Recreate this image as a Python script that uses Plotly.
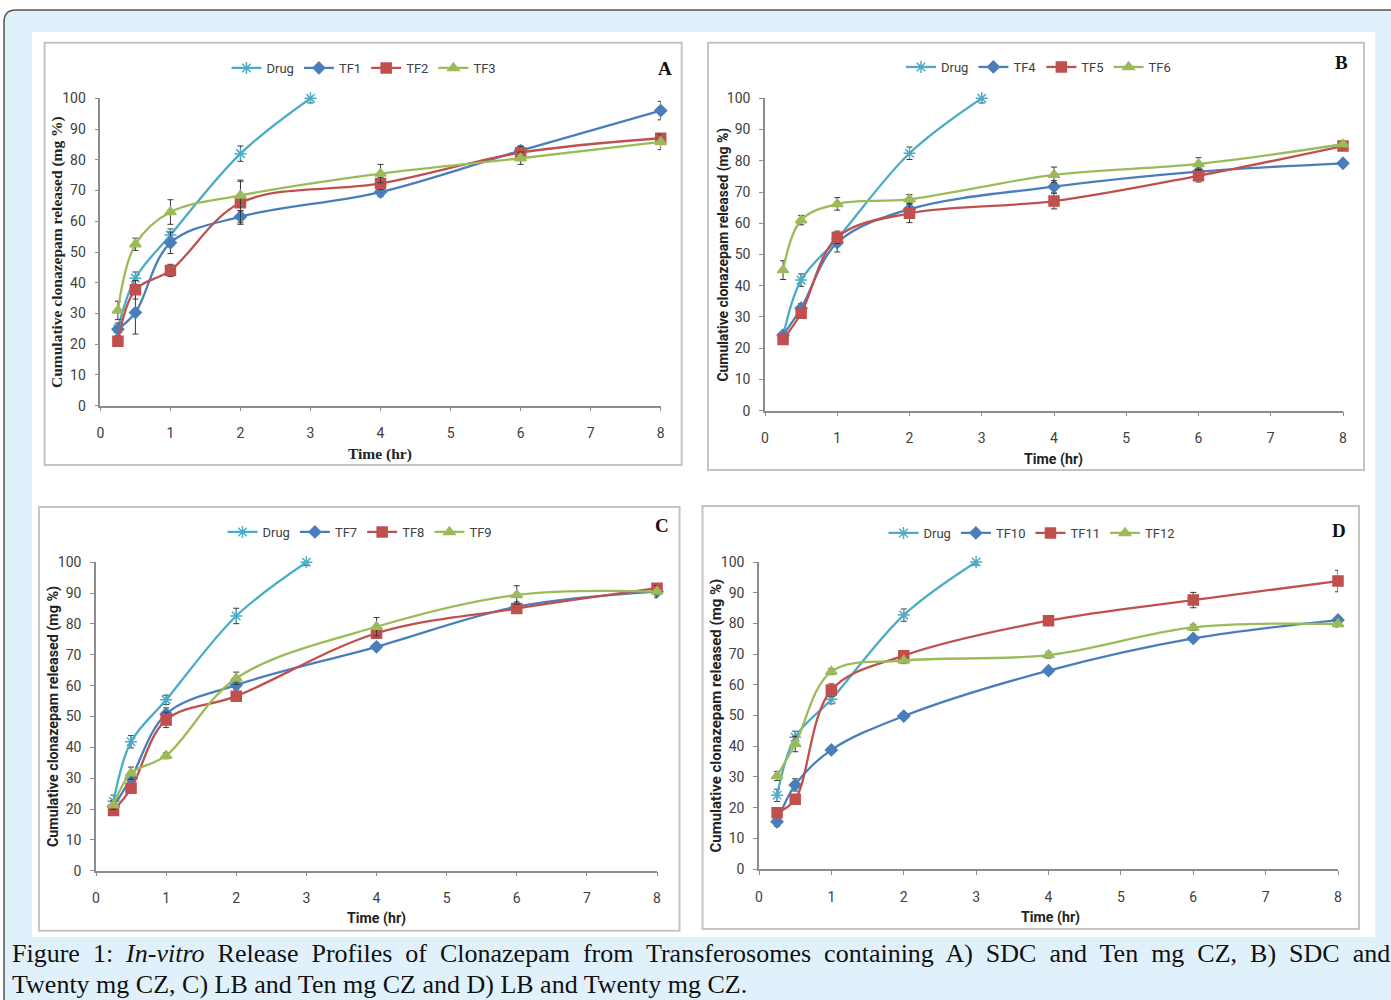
import plotly.graph_objects as go

W, H = 1391, 1000

# ---------------- data ----------------
time_drug = [0.25, 0.5, 1, 2, 3]
time_tf = [0.25, 0.5, 1, 2, 4, 6, 8]
x_ticks = [0, 1, 2, 3, 4, 5, 6, 7, 8]
y_ticks = [0, 10, 20, 30, 40, 50, 60, 70, 80, 90, 100]

# Panel A
drug_a = [25, 41.5, 55.5, 82, 100]
drug_a_err = [1, 2, 2, 2.5, 1.5]
tf1 = [24.9, 30.3, 53, 61.5, 69.5, 83, 96]
tf1_err = [2, 7, 3.5, 2, 1.5, 1.5, 3]
tf2 = [21, 37.7, 44, 66, 72.3, 82.3, 87]
tf2_err = [1.5, 3, 2, 7, 2, 2, 1.5]
tf3 = [31, 52.5, 63, 68.4, 75.5, 80.5, 85.8]
tf3_err = [3, 2, 4, 5, 3, 2, 2.5]

# Panel B
drug_b = [23.7, 41.8, 55, 82.4, 100]
drug_b_err = [1, 2, 2, 2, 1.5]
tf4 = [24.2, 32.8, 53.8, 64.5, 71.7, 76.5, 79.2]
tf4_err = [1, 1.5, 3, 2, 2, 2, 1]
tf5 = [22.8, 31.2, 55.5, 63.2, 67.1, 75.2, 84.7]
tf5_err = [1, 1.5, 2, 3, 2.5, 2, 1]
tf6 = [45, 61, 66.2, 67.7, 75.5, 79, 85.3]
tf6_err = [3, 1.5, 2, 1.5, 2.5, 2, 1]

# Panel C
drug_c = [22.5, 41.8, 55.4, 82.6, 100]
drug_c_err = [2, 2, 1.5, 2.5, 1]
tf7 = [20.8, 30, 50.8, 60.2, 72.6, 85.6, 90.5]
tf7_err = [1.5, 2, 2, 1.5, 1, 1.5, 1]
tf8 = [19.5, 26.7, 48.9, 56.6, 77, 85, 91.6]
tf8_err = [1, 1.5, 2.5, 1.5, 1.5, 1.5, 1]
tf9 = [21.3, 31.6, 37.3, 62.4, 79.1, 89.4, 90.5]
tf9_err = [1.5, 2, 1, 2, 3, 3, 2]

# Panel D
drug_d = [24, 42.9, 55.3, 82.7, 100]
drug_d_err = [2, 2, 1.5, 2, 1]
tf10 = [15.4, 27.4, 38.8, 49.8, 64.6, 75.1, 81.1]
tf10_err = [1.5, 2, 1, 1, 1, 1, 1]
tf11 = [18.3, 22.7, 58.3, 69.5, 80.9, 87.6, 93.8]
tf11_err = [1.5, 1.5, 2, 1.5, 1.5, 2.5, 3.5]
tf12 = [30.3, 40.7, 64.3, 67.9, 69.7, 78.7, 79.8]
tf12_err = [1.5, 2.5, 1, 1, 1, 1, 1]

caption_line1 = "Figure 1: <i>In-vitro</i> Release Profiles of Clonazepam from Transferosomes containing A) SDC and Ten mg CZ, B) SDC and"
caption_line2 = "Twenty mg CZ, C) LB and Ten mg CZ and D) LB and Twenty mg CZ."
y_title = "Cumulative clonazepam released (mg %)"
x_title = "Time (hr)"

# ---------------- styles ----------------
C_DRUG = "#4bacc6"
C_BLUE = "#4a7ebb"
C_RED = "#c0504d"
C_GREEN = "#9bbb59"
SANS = "Liberation Sans Narrow, Arial Narrow, Roboto, Liberation Sans, sans-serif"
SERIF = "Liberation Serif, Times New Roman, serif"
TICK_COL = "#404040"
BG_BLUE = "#e1f1fb"


def fx(p):
    return p / W


def fy(p):
    return 1 - p / H


panels = [
    dict(letter="A", suffix="", legend="legend", ax=(100.4, 660.7, 405.7, 98.3),
         box=(44.6, 42.7, 681.7, 465), leg=(364, 68), let=(665, 69),
         yt=(57, 252), xt=(379.5, 454), tfont=SERIF, ysz=15.5, xsz=15.5,
         series=[("Drug", time_drug, drug_a, drug_a_err), ("TF1", time_tf, tf1, tf1_err),
                 ("TF2", time_tf, tf2, tf2_err), ("TF3", time_tf, tf3, tf3_err)]),
    dict(letter="B", suffix="2", legend="legend2", ax=(765, 1343, 410.7, 98.3),
         box=(708, 42.7, 1364, 470), leg=(1038.5, 67), let=(1341, 62),
         yt=(722.5, 255), xt=(1053.6, 459), tfont=SANS, ysz=13.9, xsz=14.2,
         series=[("Drug", time_drug, drug_b, drug_b_err), ("TF4", time_tf, tf4, tf4_err),
                 ("TF5", time_tf, tf5, tf5_err), ("TF6", time_tf, tf6, tf6_err)]),
    dict(letter="C", suffix="3", legend="legend3", ax=(96, 657, 870.7, 562.3),
         box=(39, 507, 679.5, 930.7), leg=(360, 532), let=(661.6, 525),
         yt=(53, 717), xt=(377, 918), tfont=SANS, ysz=14.3, xsz=14.2,
         series=[("Drug", time_drug, drug_c, drug_c_err), ("TF7", time_tf, tf7, tf7_err),
                 ("TF8", time_tf, tf8, tf8_err), ("TF9", time_tf, tf9, tf9_err)]),
    dict(letter="D", suffix="4", legend="legend4", ax=(759, 1338, 869, 562),
         box=(702.5, 506, 1359, 929), leg=(1032, 533), let=(1339, 530),
         yt=(715.5, 716), xt=(1050, 917), tfont=SANS, ysz=15, xsz=14.2,
         series=[("Drug", time_drug, drug_d, drug_d_err), ("TF10", time_tf, tf10, tf10_err),
                 ("TF11", time_tf, tf11, tf11_err), ("TF12", time_tf, tf12, tf12_err)]),
]

styles = [
    dict(color=C_DRUG, symbol="asterisk-open", size=10),
    dict(color=C_BLUE, symbol="diamond", size=9),
    dict(color=C_RED, symbol="square", size=10),
    dict(color=C_GREEN, symbol="triangle-up", size=10),
]

fig = go.Figure()
shapes = []
annotations = []
layout = {}

# outer decorations: light-blue rounded frame on a white page
frame = f"M {fx(4)},{fy(1000)} L {fx(4)},{fy(22)} Q {fx(4)},{fy(10)} {fx(16)},{fy(10)} L {fx(1391)},{fy(10)}"
shapes.append(dict(type="path", xref="paper", yref="paper",
                   path=frame + f" L {fx(1391)},{fy(1000)} Z",
                   fillcolor=BG_BLUE, line=dict(width=0), layer="below"))
shapes.append(dict(type="path", xref="paper", yref="paper", path=frame,
                   line=dict(color="#555555", width=1.5), layer="below"))
shapes.append(dict(type="rect", xref="paper", yref="paper",
                   x0=fx(32), x1=fx(1375), y0=fy(937), y1=fy(32),
                   fillcolor="white", line=dict(width=0), layer="below"))


def ann(x, y, text, font, **kw):
    d = dict(xref="paper", yref="paper", x=fx(x), y=fy(y), text=text, showarrow=False,
             xanchor="center", yanchor="middle", font=font)
    d.update(kw)
    annotations.append(d)


for p in panels:
    s = p["suffix"]
    xa, ya = "x" + s, "y" + s
    bx0, by0, bx1, by1 = p["box"]
    shapes.append(dict(type="rect", xref="paper", yref="paper",
                       x0=fx(bx0), x1=fx(bx1), y0=fy(by1), y1=fy(by0),
                       fillcolor="white", line=dict(color="#c4c4c4", width=2), layer="below"))
    for (name, xs, ys, err), st in zip(p["series"], styles):
        fig.add_trace(go.Scatter(
            x=xs, y=ys, name=name, mode="lines+markers",
            xaxis=xa, yaxis=ya, legend=p["legend"], cliponaxis=False,
            line=dict(color=st["color"], width=2.3, shape="spline", smoothing=1),
            marker=dict(symbol=st["symbol"], size=st["size"], color=st["color"],
                        line=dict(color=st["color"], width=1.5)),
            error_y=dict(type="data", array=err, visible=True, color="#3a3a3a",
                         thickness=1, width=3),
        ))
    x0, x1, y0, y1 = p["ax"]
    axis_common = dict(showline=True, linecolor="#8c8c8c", linewidth=1.5,
                       ticks="outside", ticklen=4, tickcolor="#8c8c8c",
                       showgrid=False, zeroline=False, automargin=False,
                       tickfont=dict(family=SANS, size=14, color=TICK_COL))
    layout["xaxis" + s] = dict(domain=[fx(x0), fx(x1)], range=[0, 8], tickvals=x_ticks,
                               anchor=ya, ticklabelstandoff=10, **axis_common)
    layout["yaxis" + s] = dict(domain=[fy(y0), fy(y1)], range=[0, 100], tickvals=y_ticks,
                               anchor=xa, ticklabelstandoff=6, **axis_common)
    lx, ly = p["leg"]
    layout[p["legend"]] = dict(orientation="h", x=fx(lx), y=fy(ly), xanchor="center",
                               yanchor="middle", bgcolor="rgba(0,0,0,0)",
                               font=dict(family=SANS, size=13, color=TICK_COL),
                               itemwidth=30, tracegroupgap=0)
    tx, ty = p["let"]
    ann(tx, ty, f"<b>{p['letter']}</b>", dict(family=SERIF, size=19, color="#111111"))
    yx, yy = p["yt"]
    ann(yx, yy, f"<b>{y_title}</b>", dict(family=p["tfont"], size=p["ysz"], color="#222222"), textangle=-90)
    xx, xy = p["xt"]
    ann(xx, xy, f"<b>{x_title}</b>", dict(family=p["tfont"], size=p["xsz"], color="#222222"))

cap_font = dict(family=SERIF, size=26, color="#111111")
ann(10, 953, caption_line1.replace(" ", "\u00a0 "), cap_font, xanchor="left")
ann(10, 984, caption_line2, cap_font, xanchor="left")

fig.update_layout(width=W, height=H, margin=dict(l=0, r=0, t=0, b=0, autoexpand=False),
                  paper_bgcolor="white", plot_bgcolor="rgba(0,0,0,0)",
                  shapes=shapes, annotations=annotations, **layout)

fig.write_html("out.html", config={"displayModeBar": False},
               post_script="document.body.style.margin='0';document.body.style.overflow='hidden';")
